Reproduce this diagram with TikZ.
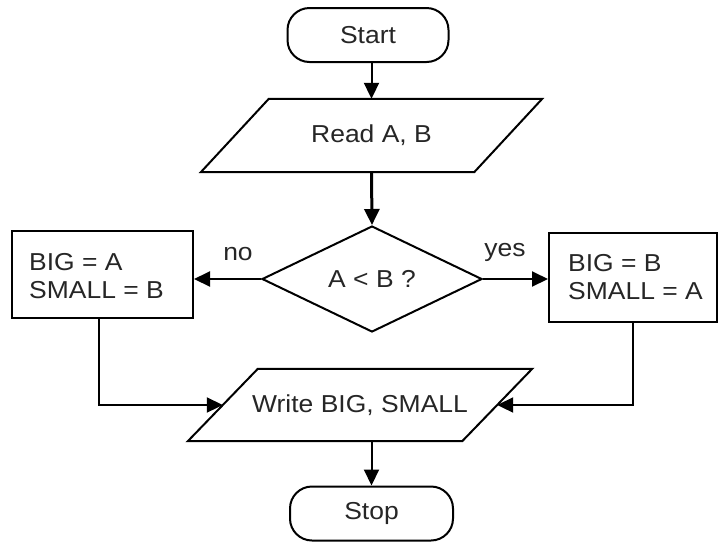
\documentclass[tikz,border=0pt]{standalone}
\usepackage{fontspec}
\setmainfont{Liberation Sans}[FakeStretch=1.08]
\usetikzlibrary{shapes.geometric,arrows.meta,calc}
\begin{document}
\begin{tikzpicture}[x=1pt,y=-1pt,
  every node/.style={font=\fontsize{24.5}{28.5}\selectfont, text=black!85},
  shapeline/.style={draw=black, line width=2pt},
  terminal/.style={shapeline, rectangle, rounded corners=22pt, minimum height=54pt, inner sep=0pt},
  iobox/.style={rectangle, draw=none, minimum height=72pt, inner sep=0pt},
  decision/.style={shapeline, diamond, minimum width=220pt, minimum height=106pt, inner sep=0pt},
  process/.style={shapeline, rectangle, inner sep=0pt},
  flow/.style={draw=black, line width=2pt, -{Triangle[length=16pt,width=15pt]}},
  lbl/.style={inner sep=0pt}
]
\useasboundingbox (0,0) rectangle (720,542);

% terminals
\node[terminal, minimum width=161pt] (start) at (368,35) {Start};
\node[terminal, minimum width=163pt] (stop) at (371.5,513.5) {Stop};

% input / output (parallelograms drawn around a rectangular text node)
\node[iobox, minimum width=273pt, minimum height=73pt] (read) at (371.5,135.5) {Read A, B};
\draw[shapeline] ($(read.south west)+(-34,0)$) -- ($(read.north west)+(34,0)$)
  -- ($(read.north east)+(34,0)$) -- ($(read.south east)+(-34,0)$) -- cycle;

\node[iobox, minimum width=274pt] (write) at (360,405) {Write BIG, SMALL};
\draw[shapeline] ($(write.south west)+(-35,0)$) -- ($(write.north west)+(35,0)$)
  -- ($(write.north east)+(35,0)$) -- ($(write.south east)+(-35,0)$) -- cycle;

% decision
\node[decision] (dec) at (372,279) {A < B ?};

% assignments
\node[process, minimum width=181pt, minimum height=87pt] (left) at (102.5,274.5) {};
\node[lbl, anchor=west, align=left] (lefttxt) at (29,276) {BIG = A\\SMALL = B};
\node[process, minimum width=168pt, minimum height=89pt] (right) at (633,277.5) {};
\node[lbl, anchor=west, align=left] (righttxt) at (568,277) {BIG = B\\SMALL = A};

% branch labels
\node[lbl] (nolbl) at (238,254) {no};
\node[lbl] (yeslbl) at (505,252) {yes};

% connectors
\draw[flow] (start.south -| read.north) -- (read.north);
\draw[flow, line width=3pt] (read.south) -- (dec.north);
\draw[flow] (dec.west) -- (dec.west -| left.east);
\draw[flow] (dec.east) -- (dec.east -| right.west);
\draw[flow] ([xshift=-4pt]left.south) |- (write.west);
\draw[flow] (right.south) |- (write.east);
\draw[flow] (stop.north |- write.south) -- (stop.north);
\end{tikzpicture}
\end{document}
